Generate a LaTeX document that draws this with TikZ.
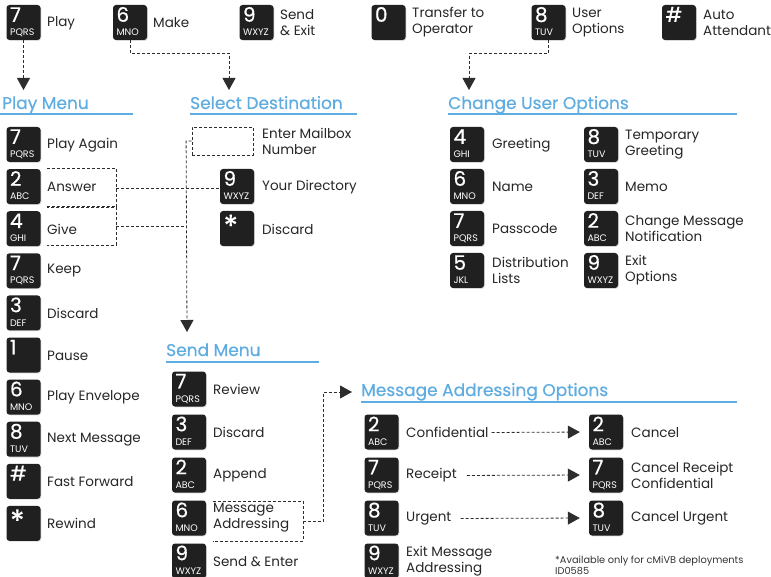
\documentclass[tikz,border=0pt]{standalone}
\usepackage{fontspec}
\setmainfont{Poppins}
\newfontfamily\headfont[FakeBold=0.6]{Poppins}
\usetikzlibrary{arrows.meta,shadows}

\definecolor{keyblack}{RGB}{32,32,32}
\definecolor{headblue}{RGB}{95,172,225}
\definecolor{linegray}{RGB}{45,45,45}

\tikzset{
  keybox/.style={fill=keyblack, rounded corners=3pt, minimum width=34pt, minimum height=35pt, inner sep=0pt,
    drop shadow={opacity=0.3, shadow xshift=0.8pt, shadow yshift=-0.8pt}},
  keydigit/.style={white, inner sep=0pt, anchor=base west, font=\headfont\fontsize{20}{20}\selectfont},
  keyletters/.style={white, inner sep=0pt, anchor=base west, font=\fontsize{9.5}{9.5}\selectfont},
  txt/.style={anchor=west, align=left, inner sep=0pt, text=black!85, font=\fontsize{13.5}{16}\selectfont},
  heading/.style={anchor=base west, inner sep=0pt, text=headblue, font=\headfont\fontsize{17}{17}\selectfont},
  headrule/.style={headblue, line width=1.2pt},
  dotline/.style={linegray, line width=0.8pt, dash pattern=on 3pt off 2pt},
  arrowline/.style={dotline, -{Triangle[width=13pt,length=12pt]}},
  openbox/.style={inner sep=0pt},
}

% key: name, x, y (centre), digit, letters
\newcommand{\keypad}[5]{%
  \node[keybox] (#1) at (#2,#3) {};
  \node[keydigit] (#1-d) at ([xshift=3.5pt,yshift=-17pt]#1.north west) {#4};
  \node[keyletters] (#1-l) at ([xshift=3.5pt,yshift=4.5pt]#1.south west) {#5};
}
\newcommand{\bigstar}{\fontsize{30}{30}\selectfont\raisebox{-9pt}{*}}

\begin{document}
\begin{tikzpicture}[x=1pt,y=-1pt]
\useasboundingbox (0,0) rectangle (771,577);

% top row
\keypad{k-play}{23.5}{22.5}{7}{PQRS}
\node[txt] (l-play) at (47,23) {Play};
\keypad{k-make}{130}{22.5}{6}{MNO}
\node[txt] (l-make) at (153,23) {Make};
\keypad{k-send}{256.5}{22.5}{9}{WXYZ}
\node[txt] (l-send) at (280,22.5) {Send\\\& Exit};
\keypad{k-oper}{388.5}{22.5}{0}{}
\node[txt] (l-oper) at (412,22.5) {Transfer to\\Operator};
\keypad{k-user}{548.5}{22.5}{8}{TUV}
\node[txt] (l-user) at (572,22.5) {User\\Options};
\keypad{k-auto}{679}{22.5}{\#}{}
\node[txt] (l-auto) at (703,22.5) {Auto\\Attendant};

% headings
\node[heading] (h-play) at (2,109) {Play Menu};
\draw[headrule] (0,114) -- (133,114);
\node[heading] (h-dest) at (190,109) {Select Destination};
\draw[headrule] (190,114) -- (357,114);
\node[heading] (h-user) at (448,109) {Change User Options};
\draw[headrule] (448,114) -- (737,114);
\node[heading] (h-send) at (166,356) {Send Menu};
\draw[headrule] (166,362) -- (319,362);
\node[heading] (h-addr) at (361,396) {Message Addressing Options};
\draw[headrule] (361,402) -- (737,402);

\coordinate (tip-play) at (23.5,90);
\coordinate (tip-dest) at (229,90);
\coordinate (tip-user) at (469,90);
\coordinate (tip-send) at (187,332);
\coordinate (tip-addr) at (352,392);

\draw[arrowline] (k-play.south) -- (tip-play);
\draw[arrowline] (k-make.south) -- ++(0,13) -| (tip-dest);
\draw[arrowline] (k-user.south) -- ++(0,13) -| (tip-user);

% play menu
\keypad{p1}{23.5}{144.5}{7}{PQRS}
\node[txt] (lp1) at (47,145) {Play Again};
\keypad{p2}{23.5}{186.6}{2}{ABC}
\node[txt] (lp2) at (47,187) {Answer};
\keypad{p3}{23.5}{228.7}{4}{GHI}
\node[txt] (lp3) at (47,229) {Give};
\keypad{p4}{23.5}{270.8}{7}{PQRS}
\node[txt] (lp4) at (47,271) {Keep};
\keypad{p5}{23.5}{312.9}{3}{DEF}
\node[txt] (lp5) at (47,313) {Discard};
\keypad{p6}{23.5}{355}{1}{}
\node[txt] (lp6) at (47,355.5) {Pause};
\keypad{p7}{23.5}{397.1}{6}{MNO}
\node[txt] (lp7) at (47,397.5) {Play Envelope};
\keypad{p8}{23.5}{439.2}{8}{TUV}
\node[txt] (lp8) at (47,439.5) {Next Message};
\keypad{p9}{23.5}{481.3}{\#}{}
\node[txt] (lp9) at (47,481.5) {Fast Forward};
\keypad{p10}{23.5}{523.4}{\bigstar}{}
\node[txt] (lp10) at (47,523.5) {Rewind};

% answer / give boxes
\node[openbox, minimum width=69pt, minimum height=38pt] (b-ans) at (81.5,188) {};
\node[openbox, minimum width=69pt, minimum height=38pt] (b-give) at (81.5,226) {};
\draw[dotline] (b-ans.north west) -- (b-ans.north east) -- (b-ans.south east) -- (b-ans.south west);
\draw[dotline] (b-give.north west) -- (b-give.north east) -- (b-give.south east) -- (b-give.south west);

% select destination
\node[draw=linegray, dash pattern=on 3pt off 2pt, line width=0.8pt, minimum width=61pt, minimum height=28pt] (b-mail) at (222.5,141) {};
\node[txt] (l-mail) at (262,141) {Enter Mailbox\\Number};
\keypad{d1}{237}{186.5}{9}{WXYZ}
\node[txt] (ld1) at (262,187) {Your Directory};
\keypad{d2}{237}{228.5}{\bigstar}{}
\node[txt] (ld2) at (262,229) {Discard};

\draw[dotline] (b-ans.east) -- (d1.west |- b-ans.east);
\draw[dotline] (b-give.east) -- (tip-send |- b-give.east);
\draw[arrowline] (b-mail.west) -- ++(-5.5,0) -- (tip-send);

% change user options
\keypad{u1}{467}{144.5}{4}{GHI}
\node[txt] (lu1) at (492,145) {Greeting};
\keypad{u2}{467}{186.5}{6}{MNO}
\node[txt] (lu2) at (492,187) {Name};
\keypad{u3}{467}{228.5}{7}{PQRS}
\node[txt] (lu3) at (492,229) {Passcode};
\keypad{u4}{467}{270.5}{5}{JKL}
\node[txt] (lu4) at (492,270.5) {Distribution\\Lists};
\keypad{u5}{601}{144.5}{8}{TUV}
\node[txt] (lu5) at (625,144.5) {Temporary\\Greeting};
\keypad{u6}{601}{186.5}{3}{DEF}
\node[txt] (lu6) at (625,187) {Memo};
\keypad{u7}{601}{228.5}{2}{ABC}
\node[txt] (lu7) at (625,228.5) {Change Message\\Notification};
\keypad{u8}{601}{270.5}{9}{WXYZ}
\node[txt] (lu8) at (625,270.5) {Exit\\Options};

% send menu
\keypad{s1}{189}{389}{7}{PQRS}
\node[txt] (ls1) at (213,389.5) {Review};
\keypad{s2}{189}{432}{3}{DEF}
\node[txt] (ls2) at (213,432.5) {Discard};
\keypad{s3}{189}{475}{2}{ABC}
\node[txt] (ls3) at (213,475.5) {Append};
\keypad{s4}{189}{518}{6}{MNO}
\node[txt] (ls4) at (213,518) {Message\\Addressing};
\keypad{s5}{189}{561}{9}{WXYZ}
\node[txt] (ls5) at (213,561.5) {Send \& Enter};

\node[openbox, minimum width=90pt, minimum height=39pt] (b-madd) at (258,521.5) {};
\draw[dotline] (b-madd.north west) -- (b-madd.north east) -- (b-madd.south east) -- (b-madd.south west);
\draw[arrowline] (b-madd.east) -- ++(20,0) |- (tip-addr);

% message addressing options
\keypad{m1}{381.5}{432}{2}{ABC}
\node[txt] (lm1) at (406,432.5) {Confidential};
\keypad{m2}{381.5}{475}{7}{PQRS}
\node[txt] (lm2) at (406,475.5) {Receipt};
\keypad{m3}{381.5}{518}{8}{TUV}
\node[txt] (lm3) at (406,518.5) {Urgent};
\keypad{m4}{381.5}{561}{9}{WXYZ}
\node[txt] (lm4) at (406,561) {Exit Message\\Addressing};
\keypad{c1}{606}{432}{2}{ABC}
\node[txt] (lc1) at (631,432.5) {Cancel};
\keypad{c2}{606}{475}{7}{PQRS}
\node[txt] (lc2) at (631,475) {Cancel Receipt\\Confidential};
\keypad{c3}{606}{518}{8}{TUV}
\node[txt] (lc3) at (631,518.5) {Cancel Urgent};

\draw[arrowline, shorten <=3pt, shorten >=9pt] (lm1.east) -- (c1.west);
\draw[arrowline, shorten <=10pt, shorten >=9pt] (lm2.east) -- (c2.west);
\draw[arrowline, shorten <=9pt, shorten >=9pt] (lm3.east) -- (c3.west);

\node[anchor=north west, align=left, inner sep=0pt, text=black!80, font=\fontsize{9.8}{10.5}\selectfont] (note) at (555,556) {*Available only for cMiVB deployments\\ID0585};

\end{tikzpicture}
\end{document}
